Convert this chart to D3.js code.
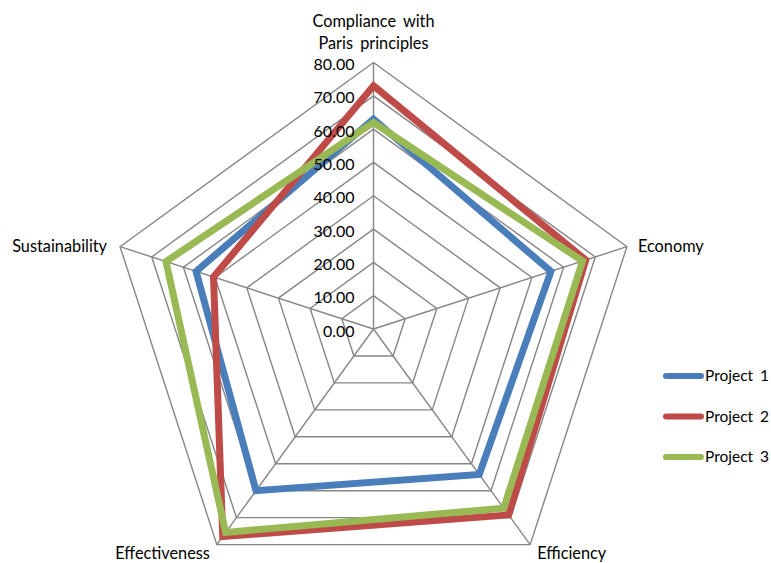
<!DOCTYPE html>
<html>
<head>
<meta charset="utf-8">
<script src="https://cdn.jsdelivr.net/npm/d3@7/dist/d3.min.js"></script>
<style>
  html, body { margin: 0; padding: 0; background: #fff; }
  svg { display: block; }
  text { font-family: Lato, "Liberation Sans", sans-serif; fill: #000; }
</style>
</head>
<body>
<svg id="chart" width="771" height="563"></svg>
<script>
const categories = ["Compliance with\nParis principles", "Economy", "Efficiency", "Effectiveness", "Sustainability"];
const seriesNames = ["Project 1", "Project 2", "Project 3"];
const project1 = [63, 56, 54, 60, 56];
const project2 = [73, 67, 69, 77, 50.5];
const project3 = [62, 66, 66.5, 75.5, 65.5];
const tickValues = [0, 10, 20, 30, 40, 50, 60, 70, 80];
const colors = ["#4A7EBB", "#BE4B48", "#98B954"];

const seriesData = [project1, project2, project3];

const svg = d3.select("#chart");
const cx = 373.5, cy = 329, R = 266.5;

const r = d3.scaleLinear().domain([0, 80]).range([0, R]);
const angle = d3.scaleLinear().domain([0, categories.length]).range([0, 2 * Math.PI]);

function pt(i, v) {
  const a = angle(i);
  return [cx + r(v) * Math.sin(a), cy - r(v) * Math.cos(a)];
}

const g = svg.append("g");

// rings
tickValues.forEach(t => {
  if (t === 0) return;
  const pts = categories.map((c, i) => pt(i, t));
  g.append("path")
    .attr("d", d3.line()(pts) + "Z")
    .attr("fill", "none")
    .attr("stroke", "#868686")
    .attr("stroke-width", 1.4);
});

// spokes
categories.forEach((c, i) => {
  const [x, y] = pt(i, 80);
  g.append("line")
    .attr("x1", cx).attr("y1", cy).attr("x2", x).attr("y2", y)
    .attr("stroke", "#868686").attr("stroke-width", 1.4);
});

// series
seriesData.forEach((vals, s) => {
  const pts = vals.map((v, i) => pt(i, v));
  g.append("path")
    .attr("d", d3.line()(pts) + "Z")
    .attr("fill", "none")
    .attr("stroke", colors[s])
    .attr("stroke-width", 7)
    .attr("stroke-linejoin", "miter");
});

// tick labels
tickValues.forEach(t => {
  const [x, y] = pt(0, t);
  g.append("text")
    .attr("x", x - 19)
    .attr("y", y + 2)
    .attr("dy", "0.35em")
    .attr("text-anchor", "end")
    .attr("font-size", 16)
    .text(d3.format(".2f")(t));
});

// category labels
categories.forEach((c, i) => {
  const [x, y] = pt(i, 80);
  const lines = c.split("\n");
  const t = g.append("text").attr("font-size", 16.3).attr("word-spacing", 3);
  if (i === 0) {
    t.attr("text-anchor", "middle");
    lines.forEach((ln, k) => {
      t.append("tspan").attr("x", x).attr("y", 27 + k * 22).text(ln);
    });
  } else if (i === 1) {
    t.attr("x", x + 11).attr("y", y + 5).attr("text-anchor", "start").text(c);
  } else if (i === 2) {
    t.attr("x", x + 7).attr("y", y + 14).attr("text-anchor", "start").text(c);
  } else if (i === 3) {
    t.attr("x", x - 7).attr("y", y + 14).attr("text-anchor", "end").text(c);
  } else {
    t.attr("x", x - 13).attr("y", y + 5).attr("text-anchor", "end").text(c);
  }
});

// legend
const legend = svg.append("g");
const ly = d3.scalePoint().domain(seriesNames).range([376, 457]);
seriesNames.forEach((n, s) => {
  legend.append("line")
    .attr("x1", 666).attr("x2", 701)
    .attr("y1", ly(n)).attr("y2", ly(n))
    .attr("stroke", colors[s]).attr("stroke-width", 6)
    .attr("stroke-linecap", "round");
  legend.append("text")
    .attr("x", 705).attr("y", ly(n)).attr("dy", "0.35em")
    .attr("font-size", 15.5)
    .attr("word-spacing", 3)
    .text(n);
});
</script>
</body>
</html>
